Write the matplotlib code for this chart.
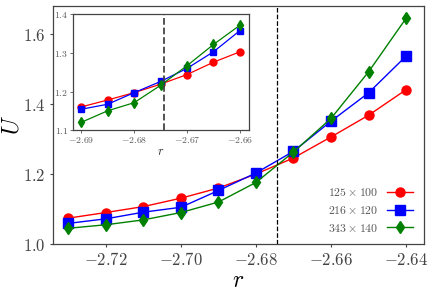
import numpy as np
import matplotlib
matplotlib.use('Agg')
import matplotlib.pyplot as plt
from matplotlib.ticker import FormatStrFormatter

plt.rcParams['mathtext.fontset'] = 'cm'
plt.rcParams['font.family'] = 'serif'
plt.rcParams['font.serif'] = ['DejaVu Serif']

# main panel data
r_main = [-2.73, -2.72, -2.71, -2.70, -2.69, -2.68, -2.67, -2.66, -2.65, -2.64]
u_125 = [1.074, 1.090, 1.107, 1.131, 1.160, 1.200, 1.246, 1.306, 1.368, 1.441]
u_216 = [1.059, 1.072, 1.091, 1.105, 1.153, 1.203, 1.265, 1.351, 1.432, 1.537]
u_343 = [1.045, 1.055, 1.069, 1.090, 1.120, 1.176, 1.263, 1.359, 1.492, 1.645]

# inset data
r_ins = [-2.69, -2.685, -2.68, -2.675, -2.67, -2.665, -2.66]
ui_125 = [1.160, 1.178, 1.197, 1.219, 1.244, 1.276, 1.303]
ui_216 = [1.154, 1.167, 1.197, 1.226, 1.260, 1.303, 1.358]
ui_343 = [1.120, 1.150, 1.171, 1.216, 1.267, 1.322, 1.372]

labels = [r'$125\times100$', r'$216\times120$', r'$343\times140$']
r_cross = -2.6744

spine_col = '#444444'

fig = plt.figure(figsize=(4.36, 2.91), dpi=100)
ax = fig.add_axes([0.1216, 0.1615, 0.851, 0.8175])

styles = [('red', 'o'), ('blue', 's'), ('green', 'd')]
for ys, lab, (c, m) in zip([u_125, u_216, u_343], labels, styles):
    ax.plot(r_main, ys, color=c, marker=m, markersize=6.5, lw=1.0, label=lab)
ax.axvline(r_cross, color='black', ls='--', lw=0.9)

ax.set_xlim(-2.7341, -2.6352)
ax.set_ylim(1.0, 1.68)
ax.set_xticks([-2.72, -2.70, -2.68, -2.66, -2.64])
ax.set_yticks([1.0, 1.2, 1.4, 1.6])
ax.xaxis.set_major_formatter(FormatStrFormatter('$%.2f$'))
ax.yaxis.set_major_formatter(FormatStrFormatter('$%.1f$'))
ax.tick_params(labelsize=12, colors=spine_col, length=2, width=0.8)
for s in ax.spines.values():
    s.set_color(spine_col)
    s.set_linewidth(0.9)
ax.set_xlabel(r'$r$', fontsize=17)
ax.set_ylabel(r'$U$', fontsize=17)
ax.xaxis.set_label_coords(0.5, -0.105)
ax.yaxis.set_label_coords(-0.08, 0.5)

leg = ax.legend(loc='lower right', frameon=False, markerfirst=False,
                fontsize=8.5, handlelength=2.2, labelspacing=0.4,
                bbox_to_anchor=(1.0, -0.005))
for t in leg.get_texts():
    t.set_color('#555555')

# inset
axi = fig.add_axes([0.168, 0.553, 0.403, 0.3976])
for ys, (c, m) in zip([ui_125, ui_216, ui_343], styles):
    axi.plot(r_ins, ys, color=c, marker=m, markersize=5, lw=0.9)
axi.axvline(r_cross, color='#444444', ls='--', lw=1.3)
axi.set_xlim(-2.6915, -2.6583)
axi.set_ylim(1.1, 1.4)
axi.set_xticks([-2.69, -2.68, -2.67, -2.66])
axi.set_yticks([1.1, 1.2, 1.3, 1.4])
axi.xaxis.set_major_formatter(FormatStrFormatter('$%.2f$'))
axi.yaxis.set_major_formatter(FormatStrFormatter('$%.1f$'))
axi.tick_params(labelsize=7, colors='#555555', length=2, width=0.6, pad=1.5)
for s in axi.spines.values():
    s.set_color(spine_col)
    s.set_linewidth(0.9)
axi.set_xlabel(r'$r$', fontsize=9, labelpad=0, color='#333333')

fig.savefig('out.png', dpi=100)
